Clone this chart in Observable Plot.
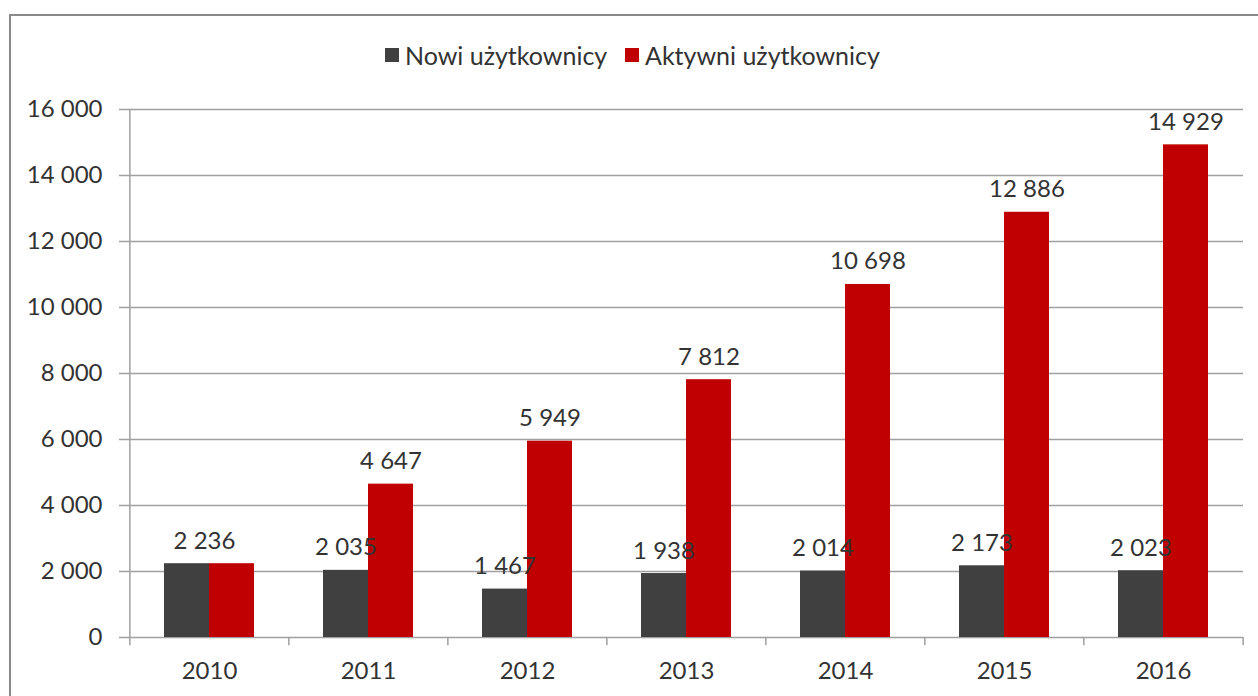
<!DOCTYPE html>
<html><head><meta charset="utf-8">
<script src="https://cdn.jsdelivr.net/npm/d3@7"></script>
<script src="https://cdn.jsdelivr.net/npm/@observablehq/plot@0.6"></script>
<style>
body{margin:0;background:#fff;width:1258px;height:696px;overflow:hidden;position:relative;font-family:Lato,sans-serif;}
#frame{position:absolute;left:9px;top:14px;width:1400px;height:900px;border:2px solid #8a8a8a;box-sizing:border-box}
#legend{position:absolute;top:40px;left:0;width:1258px;height:30px;font-size:25px;color:#333;}
.item{position:absolute;top:0;height:30px;display:flex;align-items:center;white-space:nowrap}
.sw{width:14px;height:14px;margin-right:6px}
#chart{position:absolute;left:0;top:90px}
</style></head>
<body>
<div id="frame"></div>
<div id="legend"></div>
<div id="chart"></div>
<script>
const years = ["2010","2011","2012","2013","2014","2015","2016"];
const series = ["Nowi użytkownicy","Aktywni użytkownicy"];
const nowi = [2236,2035,1467,1938,2014,2173,2023];
const aktywni = [2236,4647,5949,7812,10698,12886,14929];
const yTicks = [0,2000,4000,6000,8000,10000,12000,14000,16000];
const colors = ["#404040","#C00000"];

const rows = years.map((y,i)=>({year:y, nowi:nowi[i], aktywni:aktywni[i]}));
const fmt = d3.formatLocale({decimal:",",thousands:"\u00a0",grouping:[3],currency:["","zł"]}).format(",d");

// legend
const legend = document.getElementById("legend");
const legendLeft = [385, 625];
series.forEach((s,i)=>{
  const it = document.createElement("div");
  it.className="item"; it.style.left = legendLeft[i]+"px";
  it.innerHTML = `<span class="sw" style="background:${colors[i]}"></span><span>${s}</span>`;
  legend.appendChild(it);
});

const W = 1258, H = 606, mL = 128, mR = 15, mT = 19, mB = 59;
const pInner = 0.435, pOuter = pInner/2;
const step = (W - mL - mR) / years.length;
const band = step * (1 - pInner);
const half = band / 2;
const txt = "#333", grid = "#a0a0a0", fs = 24;

const differ = rows.filter(d => d.nowi !== d.aktywni);
const same = rows.filter(d => d.nowi === d.aktywni);

const chart = Plot.plot({
  width: W, height: H,
  marginLeft: mL, marginRight: mR, marginTop: mT, marginBottom: mB,
  style: {fontFamily: "Lato, sans-serif", fontSize: fs + "px", color: txt, background: "transparent"},
  x: {domain: years, paddingInner: pInner, paddingOuter: pOuter, axis: null, label: null},
  y: {domain: [0, 16000], axis: null, label: null},
  marks: [
    Plot.ruleY(yTicks, {stroke: grid, strokeWidth: 1.5, insetLeft: -9}),
    Plot.ruleX([years[0]], {x: d => d, dx: -step/2, y1: 0, y2: 16000, stroke: grid, strokeWidth: 1.5}),
    Plot.ruleX(years, {x: d => d, dx: -step/2, y1: 0, y2: -250, stroke: grid, strokeWidth: 1.5}),
    Plot.ruleX([years[years.length-1]], {x: d => d, dx: step/2, y1: 0, y2: -250, stroke: grid, strokeWidth: 1.5}),
    Plot.barY(rows, {x: "year", y: "nowi", fill: colors[0], insetRight: half}),
    Plot.barY(rows, {x: "year", y: "aktywni", fill: colors[1], insetLeft: half}),
    Plot.text(differ, {x: "year", y: "nowi", text: d => fmt(d.nowi), dx: -half/2, dy: -15, lineAnchor: "bottom", fill: txt, fontSize: fs}),
    Plot.text(differ, {x: "year", y: "aktywni", text: d => fmt(d.aktywni), dx: half/2, dy: -15, lineAnchor: "bottom", fill: txt, fontSize: fs}),
    Plot.text(same, {x: "year", y: "nowi", text: d => fmt(d.nowi), dx: -5, dy: -15, lineAnchor: "bottom", fill: txt, fontSize: fs}),
    Plot.axisY(yTicks, {tickSize: 0, tickPadding: 26, tickFormat: fmt, fill: txt, fontSize: fs, label: null}),
    Plot.axisX({tickSize: 0, tickPadding: 24, fill: txt, fontSize: fs, label: null})
  ]
});
document.getElementById("chart").appendChild(chart);
</script>
</body></html>
